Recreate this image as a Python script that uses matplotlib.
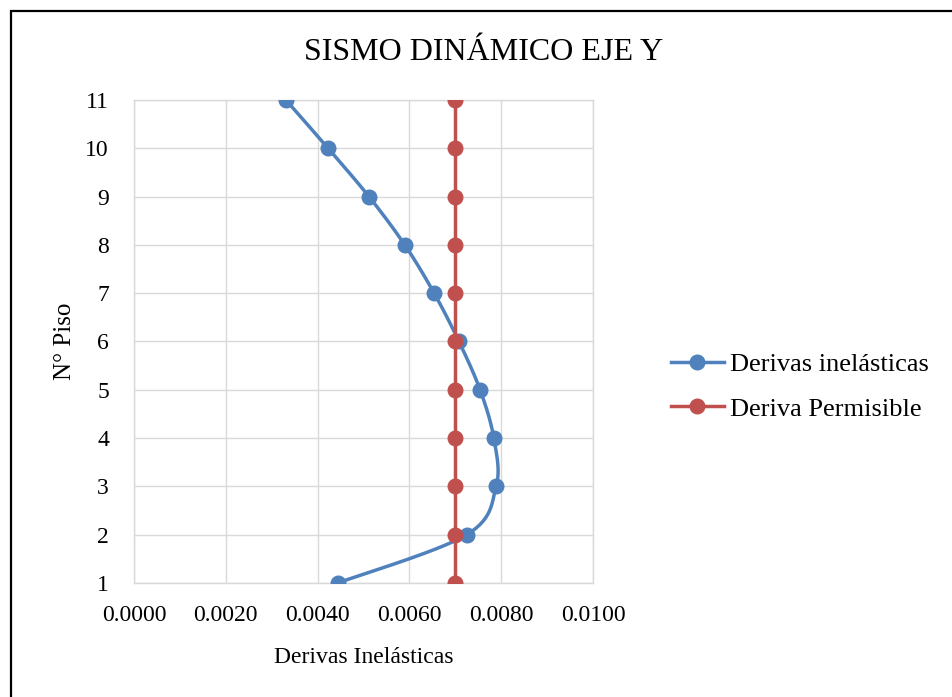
import numpy as np
import matplotlib.pyplot as plt
from matplotlib.patches import Rectangle

# Datos
pisos = [1, 2, 3, 4, 5, 6, 7, 8, 9, 10, 11]
derivas = [0.00444, 0.00725, 0.00789, 0.00784, 0.00754, 0.00708,
           0.00654, 0.00590, 0.00512, 0.00423, 0.00331]
permisible = [0.007] * 11

blue = '#4F81BD'
red = '#C0504D'
grid_c = '#D9D9D9'

plt.rcParams['font.family'] = ['Liberation Serif', 'DejaVu Serif']

# Curva suavizada tipo Excel (Catmull-Rom / Bezier)
def smooth(xs, ys, n=30):
    p = np.column_stack([xs, ys])
    p = np.vstack([p[0], p, p[-1]])
    out = []
    for i in range(1, len(p) - 2):
        p0, p1, p2, p3 = p[i - 1], p[i], p[i + 1], p[i + 2]
        c1 = p1 + (p2 - p0) / 6
        c2 = p2 - (p3 - p1) / 6
        t = np.linspace(0, 1, n)[:, None]
        seg = ((1 - t) ** 3) * p1 + 3 * ((1 - t) ** 2) * t * c1 + 3 * (1 - t) * t ** 2 * c2 + t ** 3 * p2
        out.append(seg)
    out = np.vstack(out)
    return out[:, 0], out[:, 1]

fig = plt.figure(figsize=(9.53, 6.97), dpi=100)
ax = fig.add_axes([0.1406, 0.1636, 0.4816, 0.6929])

sx, sy = smooth(derivas, pisos)
ax.plot(sx, sy, color=blue, lw=2.5, zorder=3)
ax.plot(derivas, pisos, 'o', color=blue, ms=10.5, zorder=4)
ax.plot(permisible, pisos, '-o', color=red, lw=2.5, ms=10.5, zorder=5)

ax.set_xlim(0, 0.01)
ax.set_ylim(1, 11)
ax.set_xticks(np.arange(0, 0.0101, 0.002))
ax.set_xticklabels(['%.4f' % v for v in np.arange(0, 0.0101, 0.002)])
ax.set_yticks(pisos)
ax.tick_params(length=0, labelsize=17)
ax.tick_params(axis='x', pad=16)
ax.tick_params(axis='y', pad=18)
ax.grid(True, color=grid_c, lw=1)
ax.set_axisbelow(True)
for s in ax.spines.values():
    s.set_color(grid_c)
    s.set_linewidth(1)
for lab in ax.get_xticklabels() + ax.get_yticklabels():
    lab.set_clip_on(False)

ax.set_xlabel('Derivas Inelásticas', fontsize=17, labelpad=15)
ax.set_ylabel('N° Piso', fontsize=18, labelpad=7)
fig.text(0.507, 0.925, 'SISMO DINÁMICO EJE Y', fontsize=23, ha='center', va='center')

h1, = ax.plot([], [], '-o', color=blue, lw=2.5, ms=10.5)
h2, = ax.plot([], [], '-o', color=red, lw=2.5, ms=10.5)
fig.legend([h1, h2], ['Derivas inelásticas', 'Deriva Permisible'],
           loc='center left', bbox_to_anchor=(0.679, 0.4455), frameon=False,
           fontsize=19, handlelength=2.0, handletextpad=0.23, labelspacing=0.8)

fig.patches.append(Rectangle((11 / 953, -0.1), 1.2, 1 - 11 / 697 + 0.1,
                             transform=fig.transFigure, fill=False,
                             edgecolor='black', lw=1.6))

fig.savefig('out.png', dpi=100)
